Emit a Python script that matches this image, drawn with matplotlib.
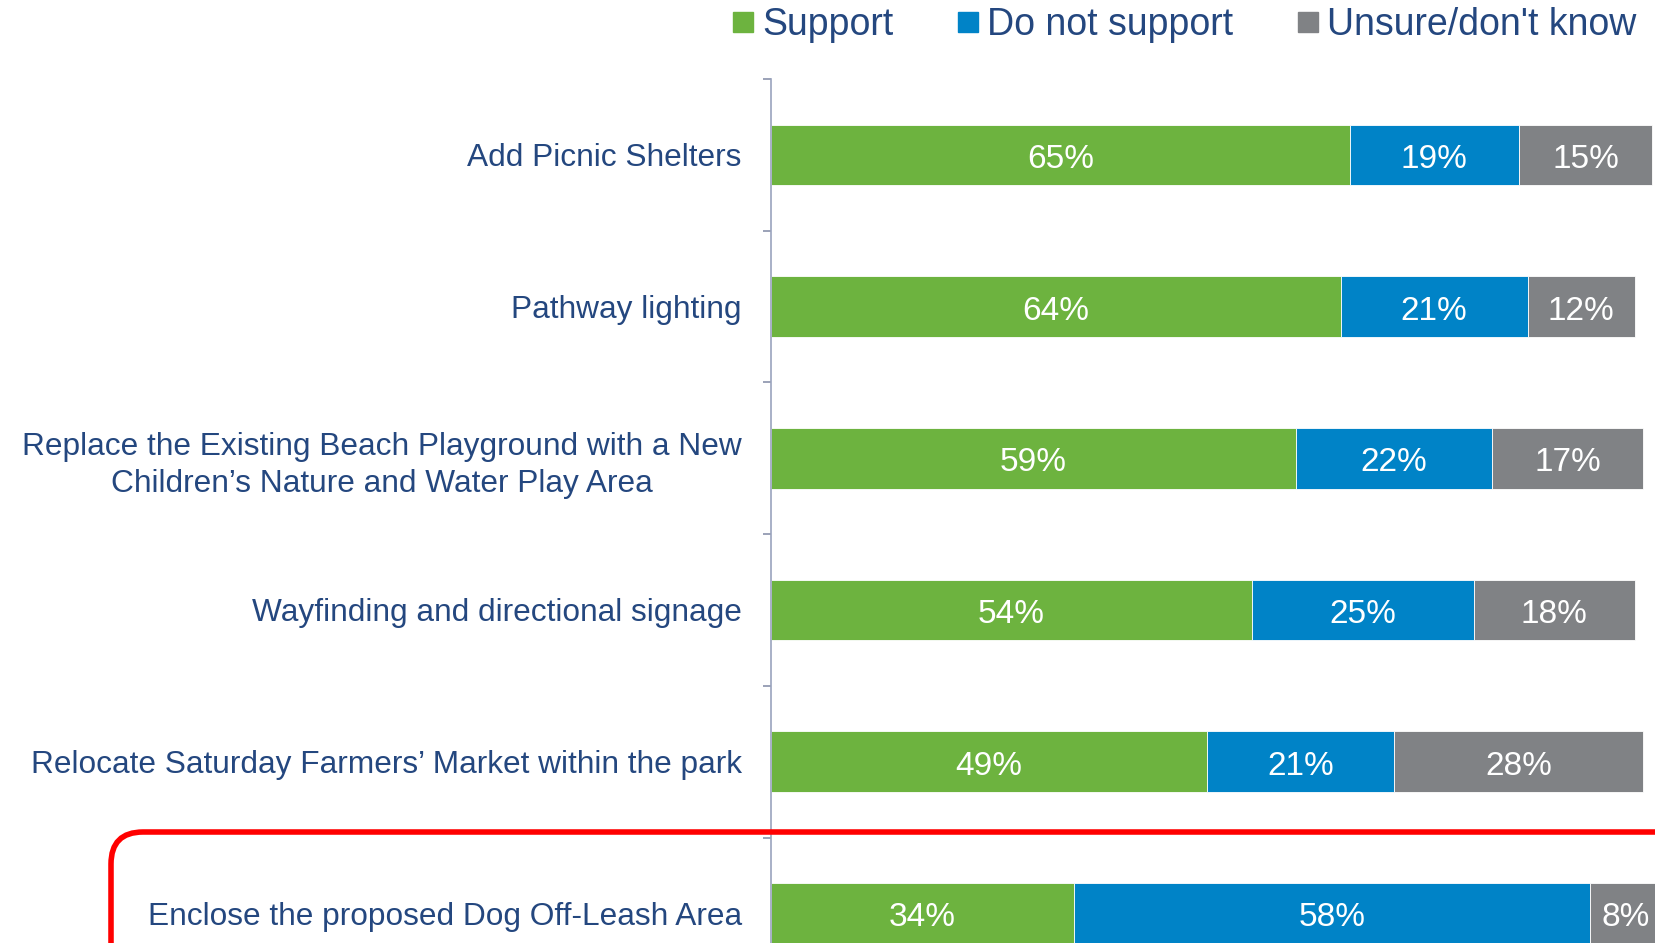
import matplotlib
matplotlib.use("Agg")
import matplotlib.pyplot as plt
from matplotlib.patches import FancyBboxPatch
from matplotlib.lines import Line2D
from matplotlib.transforms import IdentityTransform

categories = [
    "Add Picnic Shelters",
    "Pathway lighting",
    "Replace the Existing Beach Playground with a New\nChildren\u2019s Nature and Water Play Area",
    "Wayfinding and directional signage",
    "Relocate Saturday Farmers\u2019 Market within the park",
    "Enclose the proposed Dog Off-Leash Area",
]
support = [65, 64, 59, 54, 49, 34]
not_support = [19, 21, 22, 25, 21, 58]
unsure = [15, 12, 17, 18, 28, 8]

series_names = ["Support", "Do not support", "Unsure/don't know"]
colors = ["#6db33f", "#0083c7", "#808285"]
text_col = "#24477f"

plt.rcParams['font.family'] = ['Liberation Sans', 'DejaVu Sans']

fig = plt.figure(figsize=(16.55, 9.43), dpi=100)
ax = fig.add_axes([771 / 1655, 0, 1 - 771 / 1655, 1 - 79 / 943])

y = list(range(len(categories)))
left = [0] * len(categories)
for vals, col in zip([support, not_support, unsure], colors):
    ax.barh(y, vals, left=left, height=0.4, color=col, edgecolor="white", linewidth=0.6)
    for yi, (l, v) in enumerate(zip(left, vals)):
        ax.text(l + v / 2, yi + 0.03, f"{v}%", ha="center", va="center", color="white", fontsize=24)
    left = [a + b for a, b in zip(left, vals)]

ax.set_xlim(0, 99.3)
ax.set_ylim(5.195, -0.5)
ax.set_xticks([])
ax.set_yticks(y)
ax.set_yticklabels(categories, fontsize=22.8, color=text_col, multialignment="center")
for lbl in ax.get_yticklabels():
    lbl.set_linespacing(1.3)
ax.tick_params(axis="y", which="major", length=0, pad=21)
ax.set_yticks([i - 0.5 for i in range(len(categories))], minor=True)
ax.tick_params(axis="y", which="minor", length=6, width=1.2, color="#8a92ab", direction="out")
for s in ["top", "right", "bottom"]:
    ax.spines[s].set_visible(False)
ax.spines["left"].set_color("#9aa3bd")
ax.spines["left"].set_linewidth(1.2)

handles = [Line2D([], [], marker="s", linestyle="none", markersize=14, color=c) for c in colors]
fig.legend(handles, series_names, loc="upper right", bbox_to_anchor=(1.009, 1.028), ncol=3,
           frameon=False, fontsize=27, labelcolor=text_col, handletextpad=0.1,
           columnspacing=1.6, handlelength=0.8)

# red highlight box around the last item
box = FancyBboxPatch((111, -300), 1800, 943 - 832 + 300,
                     boxstyle="round,pad=0,rounding_size=32",
                     transform=IdentityTransform(), fill=False,
                     edgecolor="#ff0000", linewidth=4, clip_on=False)
fig.patches.append(box)

fig.savefig("out.png", dpi=100)
